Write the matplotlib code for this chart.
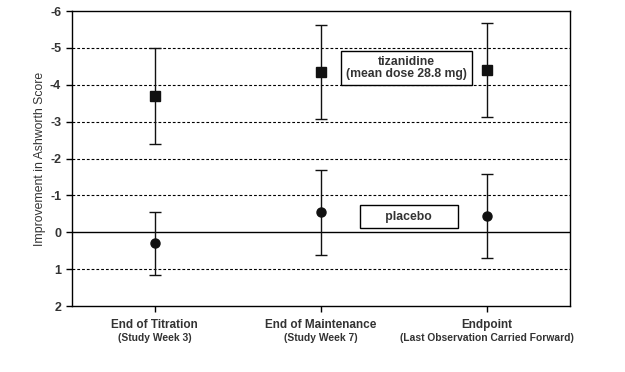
import numpy as np
import matplotlib.pyplot as plt

plt.rcParams['font.family'] = ['Liberation Sans', 'DejaVu Sans']

categories = ['End of Titration', 'End of Maintenance', 'Endpoint']
subtitles = ['(Study Week 3)', '(Study Week 7)', '(Last Observation Carried Forward)']

tiz_mean = [-3.70, -4.35, -4.40]
tiz_err = [1.31, 1.27, 1.28]
pla_mean = [0.30, -0.54, -0.44]
pla_err = [0.86, 1.15, 1.14]

x = np.arange(len(categories))

fig = plt.figure(figsize=(6.25, 3.72), dpi=100)
ax = fig.add_axes([0.1146, 0.1774, 0.7974, 0.793])

for yv in [-5, -4, -3, -2, -1, 1]:
    ax.axhline(yv, color='black', linestyle=(0, (2.5, 1.8)), linewidth=0.8, zorder=1)
ax.axhline(0, color='black', linewidth=1.0, zorder=1)

ax.errorbar(x, tiz_mean, yerr=tiz_err, fmt='s', color='#111111', markersize=6.5,
            capsize=4.5, elinewidth=1.0, capthick=1.0, zorder=3)
ax.errorbar(x, pla_mean, yerr=pla_err, fmt='o', color='#111111', markersize=6.5,
            capsize=4.5, elinewidth=1.0, capthick=1.0, zorder=3)

ax.set_xlim(-0.5, 2.5)
ax.set_ylim(2, -6)
ax.set_yticks(np.arange(-6, 3, 1))
ax.set_yticklabels([str(v) for v in range(-6, 3)], fontsize=9, fontweight='bold', color='#333333')
ax.set_xticks(x)
ax.set_xticklabels([])
ax.tick_params(axis='y', length=4, width=1)
ax.tick_params(axis='x', length=4, width=1)
for s in ax.spines.values():
    s.set_linewidth(1.0)

tr = ax.get_xaxis_transform()
for xi, c, s in zip(x, categories, subtitles):
    ax.text(xi, -0.045, c, transform=tr, ha='center', va='top', fontsize=8.5,
            fontweight='bold', color='#333333')
    ax.text(xi, -0.093, s, transform=tr, ha='center', va='top', fontsize=7.4,
            fontweight='bold', color='#333333')

ax.set_ylabel('Improvement in Ashworth Score', fontsize=8.8, color='#333333', labelpad=3)

box = dict(boxstyle='square,pad=0.4', facecolor='white', edgecolor='black', linewidth=1.0)
ax.text(1.517, -4.45, 'tizanidine\n(mean dose 28.8 mg)', ha='center', va='center',
        fontsize=8.8, fontweight='bold', color='#333333', bbox=box, linespacing=1.05, zorder=4)
box2 = dict(boxstyle='square,pad=0.45', facecolor='white', edgecolor='black', linewidth=1.0)
ax.text(1.53, -0.42, '      placebo      ', ha='center', va='center',
        fontsize=8.8, fontweight='bold', color='#333333', bbox=box2, zorder=4)

fig.savefig('out.png', dpi=100)
